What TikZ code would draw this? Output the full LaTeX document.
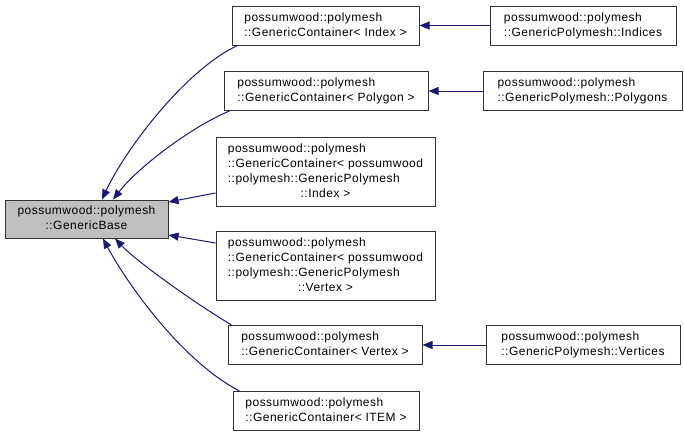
\documentclass[tikz,border=0pt]{standalone}
\usepackage{fontspec}
\setmainfont{Liberation Sans}[LetterSpace=4]
\usetikzlibrary{arrows.meta}
\definecolor{edgecol}{RGB}{25,25,112}
\definecolor{basefill}{RGB}{191,191,191}
\newcommand\twol[2]{\begin{tabular}{@{}l@{}}#1\\\multicolumn{1}{@{}c@{}}{#2}\end{tabular}}
\newcommand\fourl[4]{\begin{tabular}{@{}l@{}}#1\\#2\\#3\\\multicolumn{1}{@{}c@{}}{#4}\end{tabular}}
\tikzset{
  cls/.style={draw=black!80, line width=1pt, fill=white, inner sep=0pt,
    font=\fontsize{12}{15}\selectfont},
  inh/.style={draw=edgecol, line width=1pt, -{Triangle[length=10pt,width=8pt,fill=edgecol]}},
}
\begin{document}
\begin{tikzpicture}[x=1pt,y=-1pt]
\useasboundingbox (0,0) rectangle (684,437);
\node[cls, fill=basefill, minimum width=163pt, minimum height=38pt] (base) at (86.5,219)
  {\twol{possumwood::polymesh}{::GenericBase}};
\node[cls, minimum width=187pt, minimum height=39pt] (idx) at (325.5,25.5)
  {\twol{possumwood::polymesh}{::GenericContainer< Index >}};
\node[cls, minimum width=204pt, minimum height=39pt] (poly) at (326,91)
  {\twol{possumwood::polymesh}{::GenericContainer< Polygon >}};
\node[cls, minimum width=219pt, minimum height=69pt] (bigidx) at (325.5,171.5)
  {\fourl{possumwood::polymesh}{::GenericContainer< possumwood}{::polymesh::GenericPolymesh}{::Index >}};
\node[cls, minimum width=219pt, minimum height=69pt] (bigvtx) at (325.5,265.5)
  {\fourl{possumwood::polymesh}{::GenericContainer< possumwood}{::polymesh::GenericPolymesh}{::Vertex >}};
\node[cls, minimum width=194pt, minimum height=39pt] (vtx) at (325,345)
  {\twol{possumwood::polymesh}{::GenericContainer< Vertex >}};
\node[cls, minimum width=186pt, minimum height=39pt] (item) at (326,411)
  {\twol{possumwood::polymesh}{::GenericContainer< ITEM >}};
\node[cls, minimum width=186pt, minimum height=39pt] (indices) at (583,25.5)
  {\twol{possumwood::polymesh}{::GenericPolymesh::Indices}};
\node[cls, minimum width=199pt, minimum height=39pt] (polygons) at (582.5,91)
  {\twol{possumwood::polymesh}{::GenericPolymesh::Polygons}};
\node[cls, minimum width=194pt, minimum height=39pt] (vertices) at (583,345)
  {\twol{possumwood::polymesh}{::GenericPolymesh::Vertices}};

\draw[inh] ([xshift=6pt]idx.south west) .. controls (185,70) and (125,150) .. ([xshift=15.5pt]base.north);
\draw[inh] ([xshift=6pt]poly.south west) .. controls (195,125) and (140,165) .. ([xshift=26.5pt]base.north);
\draw[inh] ([yshift=-21.5pt]bigidx.west) -- ([yshift=17pt]base.east);
\draw[inh] ([yshift=22.5pt]bigvtx.west) -- ([yshift=-16pt]base.east);
\draw[inh] ([xshift=4pt]vtx.north west) .. controls (190,300) and (135,260) .. ([xshift=28.5pt]base.south);
\draw[inh] ([xshift=7pt]item.north west) .. controls (180,360) and (125,280) .. ([xshift=16.5pt]base.south);
\draw[inh] (indices.west) -- (idx.east);
\draw[inh] (polygons.west) -- (poly.east);
\draw[inh] (vertices.west) -- (vtx.east);
\end{tikzpicture}
\end{document}
